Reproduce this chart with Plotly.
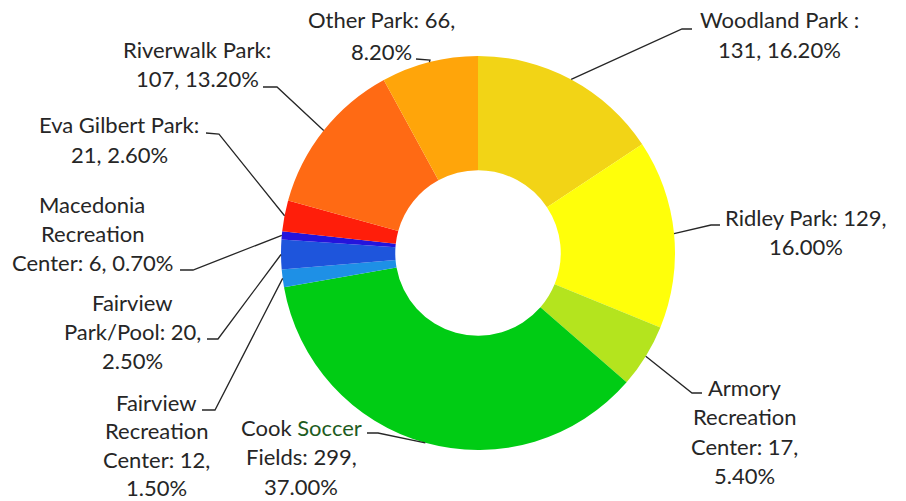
import math
import plotly.graph_objects as go

# ---- data ----
parks = ["Woodland Park", "Ridley Park", "Armory Recreation Center", "Cook Soccer Fields",
         "Fairview Recreation Center", "Fairview Park/Pool", "Macedonia Recreation Center",
         "Eva Gilbert Park", "Riverwalk Park", "Other Park"]
counts = [131, 129, 17, 299, 12, 20, 6, 21, 107, 66]
percents = [16.2, 16.0, 5.4, 37.0, 1.5, 2.5, 0.7, 2.6, 13.2, 8.2]
colors = ["#F2D416", "#FFFF0A", "#B4E41E", "#00CC14", "#1E90E6",
          "#1E55DC", "#2414DC", "#FF1E0A", "#FF6A14", "#FFA50A"]

label_lines = [
    ["Woodland Park :", "131, 16.20%"],
    ["Ridley Park: 129,", "16.00%"],
    ["Armory", "Recreation", "Center: 17,", "5.40%"],
    ["Cook <span style='color:#1E5C1E'>Soccer</span>", "Fields: 299,", "37.00%"],
    ["Fairview", "Recreation", "Center: 12,", "1.50%"],
    ["Fairview", "Park/Pool: 20,", "2.50%"],
    ["Macedonia", "Recreation", "Center: 6, 0.70%"],
    ["Eva Gilbert Park:", "21, 2.60%"],
    ["Riverwalk Park:", "107, 13.20%"],
    ["Other Park: 66,", "8.20%"],
]

# ---- layout constants (pixels) ----
W, H = 906, 501
CX, CY, R = 478, 253, 197
HOLE = 0.42

# label: (center x, first baseline y, line spacing)
label_pos = [
    (779, 27, 31), (806, 225, 30), (744, 395, 29.5), (301, 435, 29.5),
    (156, 410, 28.5), (132, 310, 29), (92, 212, 29), (119, 133, 30),
    (197, 57, 30), (381, 28, 31),
]
# leader elbows: list of points from label end toward pie (pie point appended)
leader_elbows = [
    [(692, 29), (682, 29)],
    [(720, 225), (711, 225)],
    [(702, 393), (692, 393)],
    [(367, 433), (378, 433)],
    [(202, 410), (215, 410)],
    [(207, 339), (218, 339)],
    [(180, 270), (193, 270)],
    [(206, 133), (219, 134)],
    [(263, 87), (277, 87)],
    [(416, 59), (430, 60)],
]

def px(x):
    return x / W

def py(y):
    return 1 - y / H

fig = go.Figure(go.Pie(
    labels=parks, values=percents, sort=False, direction="clockwise", rotation=0,
    hole=HOLE, marker=dict(colors=colors, line=dict(width=0)),
    textinfo="none", hoverinfo="label+value", showlegend=False,
    domain=dict(x=[px(CX - R), px(CX + R)], y=[py(CY + R), py(CY - R)]),
))

total = sum(percents)
cum = 0.0
shapes = []
annotations = []
font = dict(family="Lato, Open Sans, sans-serif", size=22, color="#262626")
for i, v in enumerate(percents):
    mid = (cum + v / 2) / total * 2 * math.pi
    cum += v
    ex = CX + R * math.sin(mid)
    ey = CY - R * math.cos(mid)
    pts = leader_elbows[i] + [(ex, ey)]
    path = "M " + " L ".join(f"{px(x):.5f},{py(y):.5f}" for x, y in pts)
    shapes.append(dict(type="path", path=path, xref="paper", yref="paper",
                       line=dict(color="#262626", width=1.3)))
    lx, ly, sp = label_pos[i]
    for j, t in enumerate(label_lines[i]):
        annotations.append(dict(text=t, x=px(lx), y=py(ly + j * sp - 8),
                                xref="paper", yref="paper", showarrow=False,
                                xanchor="center", yanchor="middle", font=font))

fig.update_layout(
    width=W, height=H, margin=dict(l=0, r=0, t=0, b=0),
    paper_bgcolor="white", plot_bgcolor="white",
    shapes=shapes, annotations=annotations,
)
fig.write_html("out.html")
